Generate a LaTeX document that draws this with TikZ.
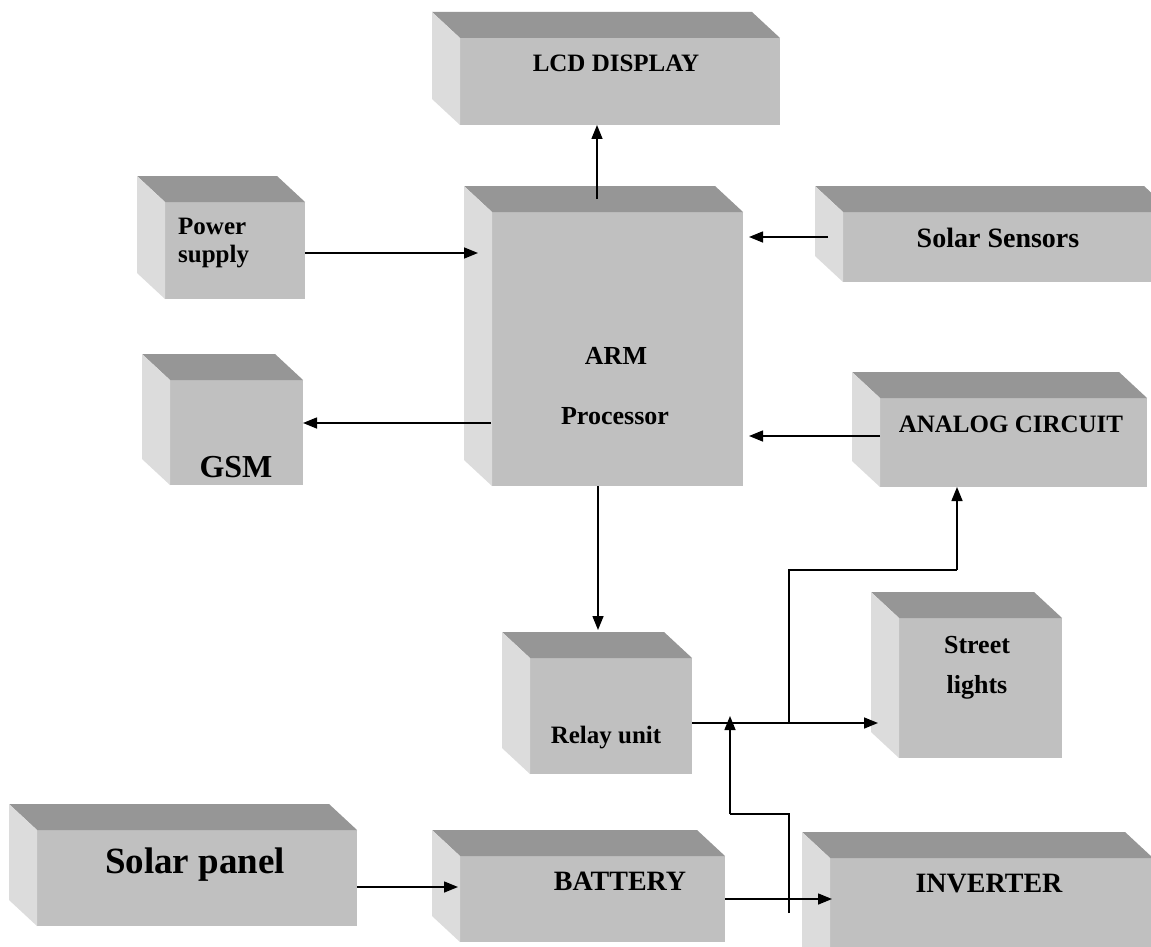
\documentclass[tikz,border=0pt]{standalone}
\usepackage{fontspec}
\setmainfont{Liberation Serif}
\usetikzlibrary{arrows.meta,calc}
\definecolor{topc}{HTML}{969696}
\definecolor{frontc}{HTML}{C0C0C0}
\definecolor{sidec}{HTML}{DCDCDC}
\tikzset{
  frontbox/.style={fill=frontc, inner sep=0pt, outer sep=0pt},
  arr/.style={line width=1.5pt, -{Triangle[length=14pt,width=11pt]}},
  ln/.style={line width=1.5pt},
  lbl/.style={inner sep=0pt, text=black},
}
% name, left, top, right, bottom of the front face
\newcommand\mkbox[5]{%
  \node[frontbox, minimum width={(#4-#2)*1pt}, minimum height={(#5-#3)*1pt}] (#1) at ({(#2+#4)/2},{(#3+#5)/2}) {};
  \fill[topc] (#1.north west) -- ++(-28,-26) -- ($(#1.north east)+(-28,-26)$) -- (#1.north east) -- cycle;
  \fill[sidec] (#1.north west) -- ++(-28,-26) -- ($(#1.south west)+(-28,-26)$) -- (#1.south west) -- cycle;
}
\newcommand\fs[1]{\fontsize{#1}{#1}\selectfont\bfseries}
\begin{document}
\begin{tikzpicture}[x=1pt,y=-1pt]
\useasboundingbox (0,0) rectangle (1151,947);
\clip (0,0) rectangle (1151,947);
\fill[white] (0,0) rectangle (1151,947);
\mkbox{lcd}{460}{38}{780}{125}
\mkbox{ps}{165}{202}{305}{299}
\mkbox{arm}{492}{212}{743}{486}
\mkbox{ss}{843}{212}{1172}{282}
\mkbox{gsm}{170}{380}{303}{485}
\mkbox{ac}{880}{398}{1147}{487}
\mkbox{relay}{530}{658}{692}{774}
\mkbox{sl}{899}{618}{1062}{758}
\mkbox{sp}{37}{830}{357}{926}
\mkbox{bat}{460}{856}{725}{942}
\mkbox{inv}{830}{858}{1153}{975}

% labels
\node[lbl, font=\fs{25}, anchor=base] (lcdT) at (616,72) {LCD DISPLAY};
\node[lbl, font=\fs{25}, anchor=base west] (psT1) at (178,234) {Power};
\node[lbl, font=\fs{25}, anchor=base west] (psT2) at (178,262) {supply};
\node[lbl, font=\fs{26}, anchor=base] (armT1) at (616,364) {ARM};
\node[lbl, font=\fs{26}, anchor=base] (armT2) at (615,424) {Processor};
\node[lbl, font=\fs{28}, anchor=base] (ssT) at (998,247) {Solar Sensors};
\node[lbl, font=\fs{32}, anchor=base] (gsmT) at (236,477) {GSM};
\node[lbl, font=\fs{25}, anchor=base] (acT) at (1011,432) {ANALOG CIRCUIT};
\node[lbl, font=\fs{25}, anchor=base] (relayT) at (606,743) {Relay unit};
\node[lbl, font=\fs{26}, anchor=base] (slT1) at (977,653) {Street};
\node[lbl, font=\fs{26}, anchor=base] (slT2) at (977,693) {lights};
\node[lbl, font=\fs{37}, anchor=base] (spT) at (195,873) {Solar panel};
\node[lbl, font=\fs{28}, anchor=base] (batT) at (620,890) {BATTERY};
\node[lbl, font=\fs{28}, anchor=base] (invT) at (989,892) {INVERTER};

% connectors
\coordinate (j1) at (789,723);
\coordinate (j2) at (789,570);
\coordinate (j3) at (957,570);
\coordinate (k1) at (789,913);
\coordinate (k2) at (789,814);
\coordinate (k3) at (730,814);
\draw[arr] (597,199) -- (lcd.south -| 597,0);
\draw[arr] (ps.east |- 0,253) -- (478,253);
\draw[arr] (828,237) -- (749,237);
\draw[arr] (491,423) -- (gsm.east |- 0,423);
\draw[arr] (ac.west |- 0,436) -- (749,436);
\draw[arr] (arm.south -| 598,0) -- (598,630);
\draw[arr] (relay.east |- 0,723) -- (878,723);
\draw[ln] (j1) -- (j2) -- (j3);
\draw[arr] (j3) -- (ac.south -| j3);
\draw[arr] (sp.east |- 0,887) -- (458,887);
\draw[arr] (bat.east |- 0,899) -- (832,899);
\draw[ln] (k1) -- (k2) -- (k3);
\draw[arr] (k3) -- (730,716);
\end{tikzpicture}
\end{document}
